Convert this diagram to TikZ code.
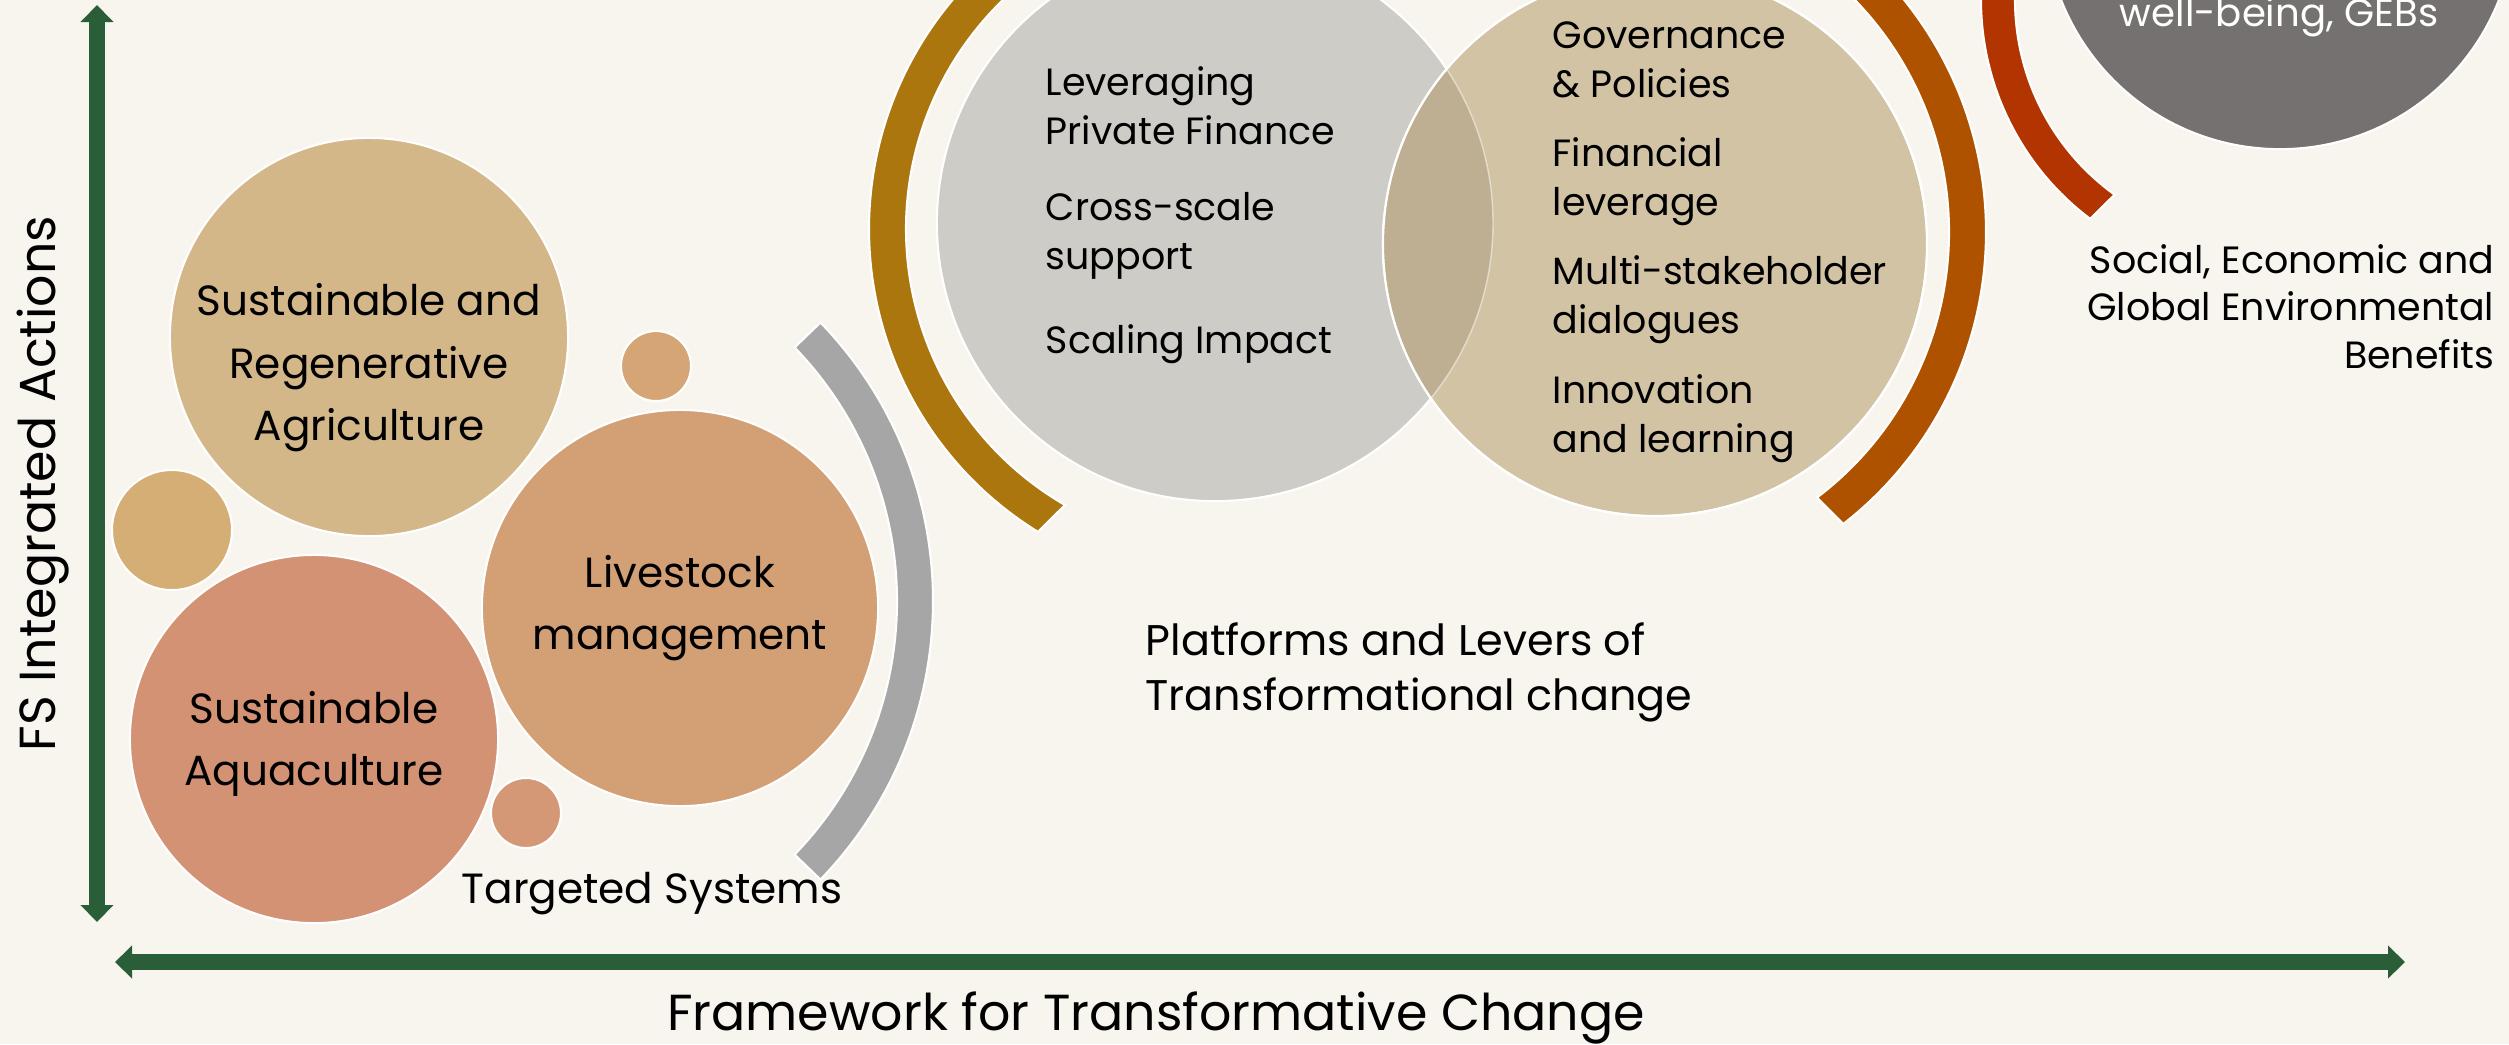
\documentclass[tikz,border=0pt]{standalone}
\usepackage{fontspec}
\setmainfont{Poppins}
\usetikzlibrary{positioning,arrows.meta,calc}
\definecolor{cream}{RGB}{248,244,238}
\definecolor{axisgreen}{RGB}{42,94,56}
\definecolor{agritan}{RGB}{211,183,137}
\definecolor{aquasalmon}{RGB}{212,146,117}
\definecolor{livestockclay}{RGB}{211,160,117}
\definecolor{dotsand}{RGB}{212,174,116}
\definecolor{dotclay}{RGB}{213,165,118}
\definecolor{dotsalmon}{RGB}{212,152,118}
\definecolor{arcgray}{RGB}{166,166,166}
\definecolor{arcgold}{RGB}{172,118,14}
\definecolor{arcorange}{RGB}{174,82,0}
\definecolor{arcred}{RGB}{178,52,0}
\definecolor{venngray}{RGB}{205,204,199}
\definecolor{venntan}{RGB}{210,195,165}
\definecolor{vennmix}{RGB}{190,174,146}
\definecolor{goalgray}{RGB}{117,113,112}
\newcommand{\circlefont}{\fontsize{12}{17.8}\selectfont}
\newcommand{\vennfont}{\fontsize{10.8}{13.7}\selectfont}
\newcommand{\notefont}{\fontsize{10.8}{13.5}\selectfont}
\newcommand{\axisfont}{\fontsize{14.4}{17}\selectfont}

\begin{document}
\begin{tikzpicture}[x=0.01cm, y=-0.01cm,
    bubble/.style={circle, draw=white, line width=0.6pt, inner sep=0pt},
    bubbletext/.style={font=\circlefont, align=center, inner sep=0pt},
    venntext/.style={font=\vennfont, align=left, anchor=base west, inner sep=0pt},
    arcband/.style={draw=white, line width=0.6pt},
    axis/.style={axisgreen, line width=0.16cm, {Triangle[width=0.32cm,length=0.17cm]}-{Triangle[width=0.32cm,length=0.17cm]}}]
  \useasboundingbox (0,0) rectangle (2509,1044);
  \fill[cream] (0,0) rectangle (2509,1044);
  \clip (0,0) rectangle (2509,1044);

  % axes
  \coordinate (yTop) at (97,5);
  \coordinate (yBot) at (97,922);
  \coordinate (xLeft) at (115,962);
  \coordinate (xRight) at (2405,962);
  \draw[axis] (yBot) -- (yTop);
  \draw[axis] (xLeft) -- (xRight);
  \node[font=\axisfont, rotate=90, anchor=base west, inner sep=0pt] (yLabel) at (55,752) {FS Integrated Actions};
  \node[font=\axisfont, anchor=base, inner sep=0pt] (xLabel) at (1156,1030) {Framework for Transformative Change};

  % targeted systems
  \node[bubble, fill=agritan, minimum size=3.98cm] (agri) at (369,337) {};
  \node[bubble, fill=dotsand, minimum size=1.2cm] (dotA) at (172,530) {};
  \node[bubble, fill=aquasalmon, minimum size=3.68cm] (aqua) at (314,739) {};
  \node[bubble, fill=livestockclay, minimum size=3.96cm] (live) at (680,608) {};
  \node[bubble, fill=dotclay, minimum size=0.7cm] (dotB) at (656,366) {};
  \node[bubble, fill=dotsalmon, minimum size=0.7cm] (dotC) at (526,813) {};
  \node[bubbletext] (agriText) at ([yshift=-0.31cm]agri.center) {Sustainable and\\Regenerative\\Agriculture};
  \node[bubbletext] (aquaText) at ([yshift=-0.05cm]aqua.center) {Sustainable\\Aquaculture};
  \node[bubbletext] (liveText) at (live) {Livestock\\management};
  \coordinate (tsArc) at (532,601);
  \fill[arcgray, arcband] (tsArc) ++(-44:401) arc[start angle=-44, end angle=44, radius=401]
    -- ($(tsArc)+(44:365)$) arc[start angle=44, end angle=-44, radius=365] -- cycle;
  \node[font=\circlefont, anchor=base, inner sep=0pt] (tsLabel) at (652,903) {Targeted Systems};

  % platforms and levers
  \coordinate (goldArc) at (1225,229);
  \fill[arcgold, arcband] (goldArc) ++(230:356) arc[start angle=230, end angle=121.7, radius=356]
    -- ($(goldArc)+(120.1:319)$) arc[start angle=120.1, end angle=230, radius=319] -- cycle;
  \node[bubble, fill=venngray, minimum size=5.56cm] (lever) at (1215,223) {};
  \node[bubble, fill=venntan, minimum size=5.44cm] (policy) at (1655,244) {};
  \begin{scope}
    \clip (lever) circle[radius=278];
    \fill[vennmix] (policy) circle[radius=272];
  \end{scope}
  \draw[white, line width=0.6pt] (policy) circle[radius=272];
  \draw[white, line width=0.4pt, opacity=0.5] (lever) circle[radius=278];
  \coordinate (orangeArc) at (1616,232);
  \fill[arcorange, arcband] (orangeArc) ++(-60:370) arc[start angle=-60, end angle=52.1, radius=370]
    -- ($(orangeArc)+(52.9:333)$) arc[start angle=52.9, end angle=-60, radius=333] -- cycle;

  % multi-line nodes sit on the baseline of their last line
  \node[venntext] (lev1) at (1045,144) {Leveraging\\Private Finance};
  \node[venntext] (lev2) at (1045,269) {Cross-scale\\support};
  \node[venntext] (lev3) at (1045,353) {Scaling Impact};
  \node[venntext] (pol1) at (1552,97) {Governance\\\& Policies};
  \node[venntext] (pol2) at (1552,215) {Financial\\leverage};
  \node[venntext] (pol3) at (1552,333) {Multi-stakeholder\\dialogues};
  \node[venntext] (pol4) at (1552,452) {Innovation\\and learning};
  \node[font=\fontsize{12.2}{15.4}\selectfont, align=left, anchor=base west, inner sep=0pt] (platLabel) at (1145,710) {Platforms and Levers of\\Transformational change};

  % benefits
  \coordinate (redArc) at (2255,0);
  \fill[arcred, arcband] (redArc) ++(200:274) arc[start angle=200, end angle=127, radius=274]
    -- ($(redArc)+(125.8:240)$) arc[start angle=125.8, end angle=200, radius=240] -- cycle;
  \node[bubble, fill=goalgray, minimum size=4.7cm] (goal) at (2280,-86) {};
  \node[font=\fontsize{11}{13.5}\selectfont, text=white, anchor=base, inner sep=0pt] (goalText) at (2279,26) {well-being, GEBs};
  \node[font=\notefont, align=right, anchor=base east, inner sep=0pt] (benefits) at (2495,368) {Social, Economic and\\Global Environmental\\Benefits};
\end{tikzpicture}
\end{document}
